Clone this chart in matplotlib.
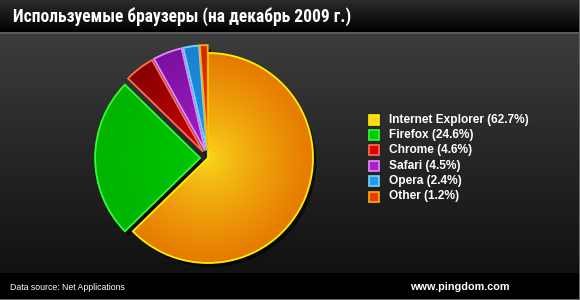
import numpy as np
import matplotlib
matplotlib.use("Agg")
import matplotlib.pyplot as plt
from matplotlib.patches import Rectangle
from matplotlib.colors import to_rgb
from matplotlib import font_manager

title = "Используемые браузеры (на декабрь 2009 г.)"
browsers = ["Internet Explorer", "Firefox", "Chrome", "Safari", "Opera", "Other"]
shares = [62.7, 24.6, 4.6, 4.5, 2.4, 1.2]
source_text = "Data source: Net Applications"
site_text = "www.pingdom.com"

inner_colors = ["#fbd81c", "#00c800", "#d80000", "#a820c8", "#2898e8", "#e83c10"]
outer_colors = ["#e67a00", "#00b400", "#880000", "#7a10a0", "#1a80d0", "#d02808"]
edge_colors = ["#fff000", "#30ff30", "#ff7050", "#e888ff", "#70d8ff", "#ffb000"]
explode = [0, 0.075, 0.075, 0.075, 0.075, 0.075]

names = {f.name for f in font_manager.fontManager.ttflist}
title_family = "Roboto"
for cand in ["Roboto Condensed", "Liberation Sans Narrow", "DejaVu Sans Condensed",
             "Open Sans Condensed", "Roboto"]:
    if cand in names:
        title_family = cand
        break

W, H = 580, 300
fig = plt.figure(figsize=(W / 100, H / 100), dpi=100)

# background
bg = fig.add_axes([0, 0, 1, 1])
bg.set_xlim(0, W)
bg.set_ylim(H, 0)
bg.axis("off")
grad = np.linspace(0, 1, 256)[:, None]
c0 = np.array(to_rgb("#3c3c3c"))
c1 = np.array(to_rgb("#111111"))
img = c0 + (c1 - c0) * grad
bg.imshow(img.reshape(256, 1, 3).repeat(2, axis=1), extent=[0, W, 273, 33],
          aspect="auto", zorder=0)
# title bar
t0 = np.array(to_rgb("#2c2c2c"))
t1 = np.array(to_rgb("#000000"))
timg = t0 + (t1 - t0) * grad
bg.imshow(timg.reshape(256, 1, 3).repeat(2, axis=1), extent=[0, W, 32, 0], aspect="auto", zorder=1)
bg.add_patch(Rectangle((0, 32), W, 1.5, color="#5a5a5a", zorder=2, lw=0))
# footer
bg.add_patch(Rectangle((0, 273), W, 27, color="#000000", zorder=1, lw=0))
bg.add_patch(Rectangle((0, 298.5), W, 1.5, color="#6a6a6a", zorder=2, lw=0))
bg.add_patch(Rectangle((578.5, 0), 1.5, H, color="#6a6a6a", zorder=2, lw=0))

tt = bg.text(13, 17, title, color="white", fontsize=14, fontweight="bold",
             family=[title_family, "DejaVu Sans"], va="center", ha="left", zorder=3)
# fit title toward the reference width (13 -> 353 px), not shrinking too much
fig.canvas.draw()
bb = tt.get_window_extent()
tt.set_fontsize(max(12.3, 14 * 340 / bb.width))

bg.text(10, 287, source_text, color="white", fontsize=6.35, family="Liberation Sans",
        va="center", ha="left", zorder=3)
bg.text(510, 287, site_text, color="white", fontsize=7.8, fontweight="bold",
        family="Liberation Sans", va="center", ha="right", zorder=3)

# legend
ly0, dy = 119.5, 15.4
for i, (b, s) in enumerate(zip(browsers, shares)):
    y = ly0 + i * dy
    bg.add_patch(Rectangle((369, y - 5), 10, 10, facecolor=inner_colors[i],
                           edgecolor=edge_colors[i], lw=1.2, zorder=3))
    bg.text(389, y, f"{b} ({s}%)", color="white", fontsize=8.6, fontweight="bold",
            family="Liberation Sans", va="center", ha="left", zorder=3)

# pie
cx, cy, R = 208, 158, 105
half = 125
ax = fig.add_axes([(cx - half) / W, (H - cy - half) / H, 2 * half / W, 2 * half / H])
ax.axis("off")
ax.patch.set_alpha(0)

# shadow
sw, _ = ax.pie(shares, startangle=90, counterclock=False, explode=explode,
               center=(0.03, -0.04), wedgeprops=dict(facecolor="black", lw=0, alpha=0.6))

wedges, _ = ax.pie(shares, startangle=90, counterclock=False, explode=explode,
                   wedgeprops=dict(lw=0))
n = 300
xs = np.linspace(-half / R, half / R, n)
X, Y = np.meshgrid(xs, xs)
for i, w in enumerate(wedges):
    wcx, wcy = w.center
    d = np.clip(np.hypot(X - wcx, Y - wcy), 0, 1)[:, :, None]
    ci = np.array(to_rgb(inner_colors[i]))
    co = np.array(to_rgb(outer_colors[i]))
    g = ci + (co - ci) * d ** 0.8
    w.set_facecolor("none")
    im = ax.imshow(g, extent=[xs[0], xs[-1], xs[0], xs[-1]], origin="lower",
                   zorder=2, interpolation="bilinear")
    im.set_clip_path(w)
    w.set_edgecolor(edge_colors[i])
    w.set_linewidth(1.3)
    w.set_zorder(3)

ax.set_xlim(-half / R, half / R)
ax.set_ylim(-half / R, half / R)
ax.set_aspect("equal")

fig.savefig("out.png", dpi=100, facecolor="black")
